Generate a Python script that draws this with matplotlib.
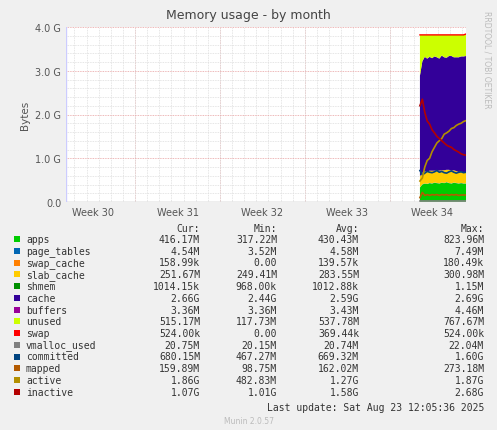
import numpy as np
import matplotlib.pyplot as plt

# time in days from left edge of plot
t = [29.2, 29.4, 29.6, 29.8, 30.0, 30.2, 30.4, 30.6, 30.8, 31.0, 31.2, 31.4, 31.6,
     31.8, 32.0, 32.2, 32.4, 32.6, 32.8, 33.0]
# values in GB
apps        = [0.33, 0.40, 0.42, 0.41, 0.43, 0.42, 0.44, 0.43, 0.42, 0.44, 0.43, 0.45, 0.43, 0.42, 0.44, 0.43, 0.42, 0.43, 0.42, 0.42]
page_tables = [0.005] * 20
swap_cache  = [0.0002] * 20
slab_cache  = [0.25, 0.26, 0.27, 0.28, 0.28, 0.29, 0.27, 0.28, 0.29, 0.28, 0.29, 0.28, 0.30, 0.29, 0.28, 0.27, 0.26, 0.26, 0.25, 0.25]
shmem       = [0.001] * 20
cache       = [2.30, 2.55, 2.62, 2.58, 2.60, 2.57, 2.61, 2.59, 2.56, 2.62, 2.58, 2.56, 2.60, 2.62, 2.58, 2.60, 2.62, 2.63, 2.65, 2.66]
buffers     = [0.003] * 20
unused      = [0.93, 0.60, 0.50, 0.54, 0.50, 0.53, 0.49, 0.51, 0.54, 0.47, 0.51, 0.52, 0.48, 0.48, 0.51, 0.51, 0.51, 0.49, 0.49, 0.50]
swap        = [0.0005] * 20
vmalloc_used = [0.02] * 20
committed   = [0.72, 0.62, 0.66, 0.70, 0.68, 0.67, 0.69, 0.72, 0.68, 0.70, 0.67, 0.66, 0.69, 0.71, 0.68, 0.66, 0.68, 0.69, 0.67, 0.68]
mapped      = [0.10, 0.22, 0.15, 0.17, 0.15, 0.17, 0.16, 0.17, 0.15, 0.17, 0.16, 0.17, 0.15, 0.17, 0.16, 0.17, 0.15, 0.16, 0.16, 0.16]
active      = [0.48, 0.55, 0.80, 0.95, 1.00, 1.15, 1.25, 1.35, 1.40, 1.45, 1.55, 1.58, 1.62, 1.68, 1.70, 1.75, 1.78, 1.80, 1.84, 1.86]
inactive    = [2.20, 2.35, 2.05, 1.85, 1.78, 1.65, 1.58, 1.50, 1.45, 1.40, 1.35, 1.30, 1.27, 1.25, 1.20, 1.17, 1.14, 1.10, 1.08, 1.07]

names = ["apps", "page_tables", "swap_cache", "slab_cache", "shmem", "cache", "buffers",
         "unused", "swap", "vmalloc_used", "committed", "mapped", "active", "inactive"]
colors = ["#00CC00", "#0066B3", "#FF8000", "#FFCC00", "#008F00", "#330099", "#990099",
          "#CCFF00", "#FF0000", "#808080", "#004480", "#B35A00", "#B38F00", "#B30000"]
cur = ["416.17M", "4.54M", "158.99k", "251.67M", "1014.15k", "2.66G", "3.36M", "515.17M",
       "524.00k", "20.75M", "680.15M", "159.89M", "1.86G", "1.07G"]
mins = ["317.22M", "3.52M", "0.00", "249.41M", "968.00k", "2.44G", "3.36M", "117.73M",
        "0.00", "20.15M", "467.27M", "98.75M", "482.83M", "1.01G"]
avgs = ["430.43M", "4.58M", "139.57k", "283.55M", "1012.88k", "2.59G", "3.43M", "537.78M",
        "369.44k", "20.74M", "669.32M", "162.02M", "1.27G", "1.58G"]
maxs = ["823.96M", "7.49M", "180.49k", "300.98M", "1.15M", "2.69G", "4.46M", "767.67M",
        "524.00k", "22.04M", "1.60G", "273.18M", "1.87G", "2.68G"]
weeks = ["Week 30", "Week 31", "Week 32", "Week 33", "Week 34"]

fig = plt.figure(figsize=(4.97, 4.31), dpi=100, facecolor="#F0F0F0")
ax = fig.add_axes([66/497, (431-203)/431, 400/497, 175/431], facecolor="white")

stack = [apps, page_tables, swap_cache, slab_cache, shmem, cache, buffers, unused, swap]
ax.stackplot(t, *stack, colors=colors[:9], linewidth=0)
top = np.sum(np.array(stack), axis=0)
ax.plot(t, top, color="#FF0000", lw=1)
for vals, c in zip([vmalloc_used, committed, mapped, active, inactive], colors[9:]):
    ax.plot(t, vals, color=c, lw=1.2)

day = 85 / 7 / 12.14
ax.set_xlim(0, 33)
ax.set_ylim(0, 4.0)
week_starts = [5.7 - 7 + 7 * i for i in range(6)]
ax.set_xticks([w + 3.5 for w in week_starts[:5]])
ax.set_xticklabels(weeks, fontsize=7, color="#555555")
ax.set_xticks(np.arange(0.0, 33, 1.0) + 5.7 % 1, minor=True)
ax.set_yticks([0, 1, 2, 3, 4])
ax.set_yticklabels(["0.0", "1.0 G", "2.0 G", "3.0 G", "4.0 G"], fontsize=7, color="#555555")
ax.set_yticks(np.arange(0, 4.01, 0.2), minor=True)
ax.tick_params(which="both", length=0)
ax.grid(which="minor", color="#DDDDDD", ls=(0, (1, 1)), lw=0.6)
ax.grid(which="major", axis="y", color="#E8A0A0", ls=(0, (1, 1)), lw=0.6)
for w in week_starts:
    ax.axvline(w, color="#E8A0A0", ls=(0, (1, 1)), lw=0.6, zorder=0.5)
ax.set_axisbelow(True)
for s in ax.spines.values():
    s.set_visible(False)
ax.axhline(0, color="#AAAAAA", lw=1)
ax.axvline(0, color="#CCCCFF", lw=1)
ax.set_ylabel("Bytes", fontsize=7.5, color="#555555")

fig.text(0.5, 1 - 16/431, "Memory usage - by month", ha="center", va="center", fontsize=9, color="#444444")
fig.text(487/497, 1 - 60/431, "RRDTOOL / TOBI OETIKER", rotation=270, ha="center", va="center",
         fontsize=5.5, color="#BBBBBB")

mono = dict(family="DejaVu Sans Mono", fontsize=7, color="#333333", va="center")
y0 = 229
fig.text(200/497, 1 - y0/431, "Cur:", ha="right", **mono)
fig.text(277/497, 1 - y0/431, "Min:", ha="right", **mono)
fig.text(359/497, 1 - y0/431, "Avg:", ha="right", **mono)
fig.text(484/497, 1 - y0/431, "Max:", ha="right", **mono)
for i, n in enumerate(names):
    y = 1 - (240 + 11.75 * i) / 431
    fig.patches.append(plt.Rectangle((14/497, y - 3/431), 6/497, 6/431, transform=fig.transFigure,
                                     facecolor=colors[i], edgecolor="none"))
    fig.text(26/497, y, n, ha="left", **mono)
    fig.text(200/497, y, cur[i], ha="right", **mono)
    fig.text(277/497, y, mins[i], ha="right", **mono)
    fig.text(359/497, y, avgs[i], ha="right", **mono)
    fig.text(484/497, y, maxs[i], ha="right", **mono)
fig.text(484/497, 1 - 408/431, "Last update: Sat Aug 23 12:05:36 2025", ha="right", **mono)
fig.text(0.5, 1 - 422/431, "Munin 2.0.57", ha="center", va="center", fontsize=5.5, color="#BBBBBB")

fig.savefig("out.png", dpi=100, facecolor=fig.get_facecolor())
